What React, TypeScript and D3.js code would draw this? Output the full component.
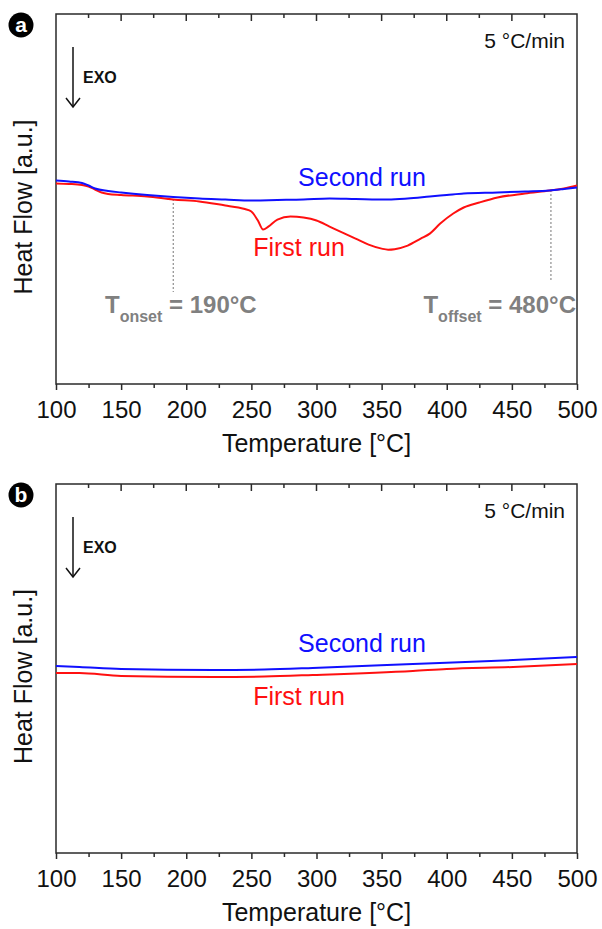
import React, { useRef, useEffect } from 'react';
import * as d3 from 'd3';

// temperatures in °C, heat flow in arbitrary units (height above baseline)
const tempA_first = [100, 110, 120, 125, 130, 135, 140, 150, 170, 190, 210, 230, 240, 245, 250, 255, 259, 263, 270, 280, 290, 300, 310, 320, 330, 340, 350, 355, 360, 370, 380, 387, 395, 405, 413, 425, 439, 460, 479, 490, 500];
const flowA_first = [200, 199.5, 198.5, 197, 194, 191, 189.5, 188.5, 187, 184, 182, 178, 176, 174.5, 172, 163, 154, 157, 164, 167, 166, 163, 157, 151, 145, 139, 135, 134, 134.5, 138, 145, 150, 160, 170, 176, 181, 186, 190, 193, 195, 198];

const tempA_second = [100, 110, 120, 125, 130, 140, 150, 170, 190, 210, 230, 250, 270, 290, 310, 330, 355, 370, 387, 400, 413, 439, 460, 479, 490, 500];
const flowA_second = [203, 202, 200.5, 198, 195, 192.5, 191, 188.5, 186.5, 185, 184, 183, 183.5, 184, 185, 184.5, 184, 185, 187, 188.5, 190, 191, 192, 193, 194.5, 196];

const tempB_first = [100, 118, 150, 221, 260, 297, 374, 400, 451, 500];
const flowB_first = [180, 180, 177, 176, 176.5, 178, 182, 184, 186, 189];

const tempB_second = [100, 118, 150, 221, 260, 297, 374, 451, 500];
const flowB_second = [187, 186, 184, 183, 183.5, 185, 189, 193, 196];

const majorTicks = [100, 150, 200, 250, 300, 350, 400, 450, 500];
const minorTicks = [125, 175, 225, 275, 325, 375, 425, 475];

const FONT = "Arial, 'Liberation Sans', sans-serif";
const W = 602;
const H = 929;

export default function App() {
    const ref = useRef<SVGSVGElement>(null);

    useEffect(() => {
        if (!ref.current) return;
        const svg = d3.select(ref.current);
        svg.selectAll('*').remove();

        const left = 56, right = 577;
        const x = d3.scaleLinear().domain([100, 500]).range([left, right]);

        const panels = [
            {
                label: 'a', top: 14, bottom: 384,
                first: tempA_first.map((t, i) => [t, flowA_first[i]]),
                second: tempA_second.map((t, i) => [t, flowA_second[i]]),
                secondText: [362, 186], firstText: [299, 256],
                markers: true,
            },
            {
                label: 'b', top: 484, bottom: 853,
                first: tempB_first.map((t, i) => [t, flowB_first[i]]),
                second: tempB_second.map((t, i) => [t, flowB_second[i]]),
                secondText: [362, 652], firstText: [299, 705],
                markers: false,
            },
        ];

        panels.forEach(p => {
            const g = svg.append('g');
            const y = d3.scaleLinear().domain([0, 369]).range([p.bottom, p.top]);
            const line = d3.line<number[]>()
                .x(d => x(d[0]))
                .y(d => y(d[1]))
                .curve(d3.curveMonotoneX);

            // frame
            g.append('rect')
                .attr('x', left).attr('y', p.top)
                .attr('width', right - left).attr('height', p.bottom - p.top)
                .attr('fill', 'none').attr('stroke', '#2a2a2a').attr('stroke-width', 1.5);

            // bottom axis
            const axis = d3.axisBottom(x).tickValues(majorTicks).tickSize(6).tickPadding(10)
                .tickFormat(d3.format('d'));
            const ax = g.append('g').attr('transform', `translate(0,${p.bottom})`).call(axis);
            ax.select('.domain').remove();
            ax.selectAll('line').attr('stroke', '#2a2a2a').attr('stroke-width', 1.5);
            ax.selectAll('text')
                .attr('font-family', FONT).attr('font-size', 24).attr('fill', '#111')
                .attr('dy', null).attr('y', 34);

            const minorAxis = d3.axisBottom(x).tickValues(minorTicks).tickSize(4).tickFormat(() => '');
            const mx = g.append('g').attr('transform', `translate(0,${p.bottom})`).call(minorAxis);
            mx.select('.domain').remove();
            mx.selectAll('line').attr('stroke', '#2a2a2a').attr('stroke-width', 1.5);

            // top ticks pointing inside
            g.selectAll('line.top-major').data(majorTicks.slice(1, -1)).enter().append('line')
                .attr('x1', d => x(d)).attr('x2', d => x(d))
                .attr('y1', p.top).attr('y2', p.top + 7)
                .attr('stroke', '#2a2a2a').attr('stroke-width', 1.5);
            g.selectAll('line.top-minor').data(minorTicks).enter().append('line')
                .attr('x1', d => x(d)).attr('x2', d => x(d))
                .attr('y1', p.top).attr('y2', p.top + 4)
                .attr('stroke', '#2a2a2a').attr('stroke-width', 1.5);

            g.append('text')
                .attr('x', (left + right) / 2).attr('y', p.bottom + 68)
                .attr('text-anchor', 'middle')
                .attr('font-family', FONT).attr('font-size', 25).attr('fill', '#111')
                .text('Temperature [°C]');

            g.append('text')
                .attr('transform', `translate(32,${(p.top + p.bottom) / 2 + 8}) rotate(-90)`)
                .attr('text-anchor', 'middle')
                .attr('font-family', FONT).attr('font-size', 25).attr('fill', '#111')
                .text('Heat Flow [a.u.]');

            // panel letter
            g.append('circle').attr('cx', 21).attr('cy', p.top + 11).attr('r', 12.5).attr('fill', '#000');
            g.append('text')
                .attr('x', 21).attr('y', p.top + 18)
                .attr('text-anchor', 'middle')
                .attr('font-family', FONT).attr('font-size', 21).attr('font-weight', 'bold').attr('fill', '#fff')
                .text(p.label);

            // heating rate
            g.append('text')
                .attr('x', 565).attr('y', p.top + 34)
                .attr('text-anchor', 'end')
                .attr('font-family', FONT).attr('font-size', 21).attr('fill', '#111')
                .text('5 °C/min');

            // EXO arrow
            g.append('line')
                .attr('x1', 73).attr('x2', 73).attr('y1', p.top + 33).attr('y2', p.top + 93)
                .attr('stroke', '#111').attr('stroke-width', 1.5);
            g.append('path')
                .attr('d', `M66,${p.top + 84} L73,${p.top + 93} L80,${p.top + 84}`)
                .attr('fill', 'none').attr('stroke', '#111').attr('stroke-width', 1.5);
            g.append('text')
                .attr('x', 83).attr('y', p.top + 69)
                .attr('font-family', FONT).attr('font-size', 16).attr('font-weight', 'bold').attr('fill', '#111')
                .text('EXO');

            if (p.markers) {
                const marks = [
                    { t: 190, yTop: 199, yBot: 292 },
                    { t: 480, yTop: 190, yBot: 282 },
                ];
                g.selectAll('line.marker').data(marks).enter().append('line')
                    .attr('x1', d => x(d.t)).attr('x2', d => x(d.t))
                    .attr('y1', d => d.yTop).attr('y2', d => d.yBot)
                    .attr('stroke', '#777').attr('stroke-width', 1)
                    .attr('stroke-dasharray', '2,2');

                const onset = g.append('text')
                    .attr('x', 105).attr('y', 313)
                    .attr('font-family', FONT).attr('font-weight', 'bold').attr('fill', '#808080')
                    .attr('font-size', 24);
                onset.append('tspan').text('T');
                onset.append('tspan').attr('font-size', 16).attr('dy', 9).text('onset');
                onset.append('tspan').attr('dy', -9).text(' = 190°C');

                const offset = g.append('text')
                    .attr('x', 576).attr('y', 313)
                    .attr('text-anchor', 'end')
                    .attr('font-family', FONT).attr('font-weight', 'bold').attr('fill', '#808080')
                    .attr('font-size', 24);
                offset.append('tspan').text('T');
                offset.append('tspan').attr('font-size', 16).attr('dy', 9).text('offset');
                offset.append('tspan').attr('dy', -9).text(' = 480°C');
            }

            g.append('path').datum(p.first).attr('d', line)
                .attr('fill', 'none').attr('stroke', '#ff1010').attr('stroke-width', 2);
            g.append('path').datum(p.second).attr('d', line)
                .attr('fill', 'none').attr('stroke', '#1010ff').attr('stroke-width', 2);

            g.append('text')
                .attr('x', p.secondText[0]).attr('y', p.secondText[1])
                .attr('text-anchor', 'middle')
                .attr('font-family', FONT).attr('font-size', 25).attr('fill', '#1010ff')
                .text('Second run');
            g.append('text')
                .attr('x', p.firstText[0]).attr('y', p.firstText[1])
                .attr('text-anchor', 'middle')
                .attr('font-family', FONT).attr('font-size', 25).attr('fill', '#ff1010')
                .text('First run');
        });
    }, []);

    return (
        <svg ref={ref} width={W} height={H}
            style={{ position: 'absolute', left: 0, top: 0, background: '#fff' }} />
    );
}
